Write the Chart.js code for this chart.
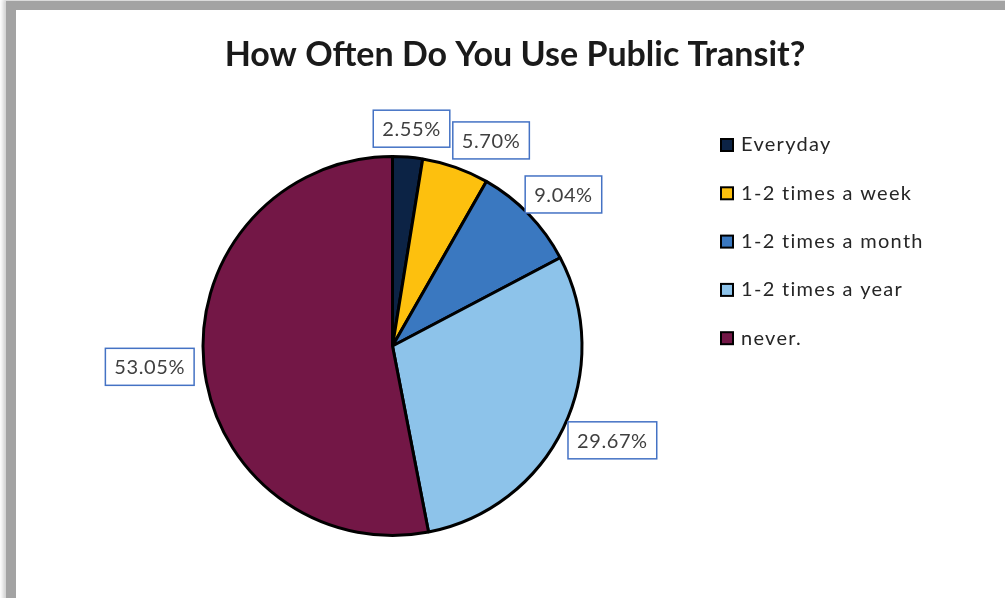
<!DOCTYPE html>
<html>
<head>
<meta charset="utf-8">
<script src="https://cdn.jsdelivr.net/npm/chart.js@4.4.0/dist/chart.umd.min.js"></script>
<style>
  body { margin: 0; background: #fff; overflow: hidden; }
  #frame {
    position: absolute; left: 6px; top: 1px; width: 1200px; height: 800px;
    background: #fff;
    border-left: 10px solid #a3a3a3; border-top: 9px solid #a3a3a3;
    box-shadow: -2px -1px 4px 1px #d0d0d0;
  }
  #transitChart { position: absolute; left: 0; top: 0; }
</style>
</head>
<body>
<div id="frame"></div>
<canvas id="transitChart" width="1005" height="598"></canvas>
<script>
const categories = ['Everyday', '1-2 times a week', '1-2 times a month', '1-2 times a year', 'never.'];
const shares = [2.55, 5.70, 9.04, 29.67, 53.05];
const sliceColors = ['#0c2345', '#fdc00e', '#3a78c0', '#8dc3ea', '#731746'];
const chartTitle = 'How Often Do You Use Public Transit?';

const FONT = 'Lato, "Open Sans", sans-serif';

// draws title, boxed outside-end labels and the legend on the right
const decorations = {
  id: 'decorations',
  afterDraw(chart) {
    const ctx = chart.ctx;
    ctx.save();

    ctx.fillStyle = '#1a1a1a';
    ctx.font = 'bold 34px ' + FONT;
    ctx.textAlign = 'center';
    ctx.textBaseline = 'middle';
    ctx.fillText(chartTitle, 515, 55);

    // data labels
    const arcs = chart.getDatasetMeta(0).data;
    ctx.font = '20px ' + FONT;
    ctx.letterSpacing = '0.6px';
    let prev = null;
    arcs.forEach((arc, i) => {
      const p = arc.getProps(['x', 'y', 'startAngle', 'endAngle', 'outerRadius'], true);
      const mid = (p.startAngle + p.endAngle) / 2;
      const text = shares[i].toFixed(2) + '%';
      const w = ctx.measureText(text).width + 18;
      const h = 37;
      const r = p.outerRadius + 10;
      const c = Math.cos(mid), s = Math.sin(mid);
      let cx = p.x + c * r + c * w / 2;
      let cy = p.y + s * r + s * h / 2;
      let box = { l: cx - w / 2, t: cy - h / 2, w, h };
      if (prev && box.l < prev.l + prev.w + 3 && box.t < prev.t + prev.h && box.t + h > prev.t) {
        box.l = prev.l + prev.w + 3;
      }
      ctx.fillStyle = '#fff';
      ctx.fillRect(box.l, box.t, w, h);
      ctx.strokeStyle = '#4472c4';
      ctx.lineWidth = 1.5;
      ctx.strokeRect(box.l, box.t, w, h);
      ctx.fillStyle = '#404040';
      ctx.fillText(text, box.l + w / 2, box.t + h / 2 + 1);
      prev = box;
    });

    // legend
    ctx.textAlign = 'left';
    ctx.font = '20px ' + FONT;
    ctx.letterSpacing = '1.3px';
    categories.forEach((name, i) => {
      const y = 145 + i * 48.3;
      ctx.fillStyle = sliceColors[i];
      ctx.fillRect(721, y - 6, 12, 12);
      ctx.strokeStyle = '#000';
      ctx.lineWidth = 2;
      ctx.strokeRect(721, y - 6, 12, 12);
      ctx.fillStyle = '#262626';
      ctx.fillText(name, 741, y);
    });

    ctx.restore();
  }
};

new Chart(document.getElementById('transitChart').getContext('2d'), {
  type: 'pie',
  data: {
    labels: categories,
    datasets: [{
      data: shares,
      backgroundColor: sliceColors,
      borderColor: '#000',
      borderWidth: 3
    }]
  },
  options: {
    responsive: false,
    animation: false,
    layout: { padding: { left: 201, right: 421, top: 155, bottom: 61 } },
    plugins: {
      legend: { display: false },
      title: { display: false },
      tooltip: { enabled: false }
    }
  },
  plugins: [decorations]
});
</script>
</body>
</html>
